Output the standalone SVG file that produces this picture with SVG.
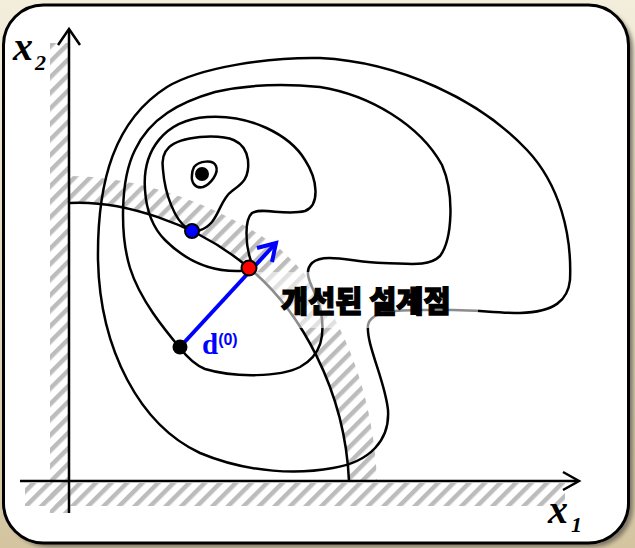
<svg xmlns="http://www.w3.org/2000/svg" width="635" height="548" viewBox="0 0 635 548">
<defs>
<linearGradient id="bg" x1="0" y1="0" x2="0" y2="1">
<stop offset="0" stop-color="#f3eedc"/>
<stop offset="1" stop-color="#d4c5a0"/>
</linearGradient>
<filter id="blur" x="-5%" y="-5%" width="110%" height="110%"><feGaussianBlur stdDeviation="2"/></filter>
<pattern id="hatch" width="11" height="11" patternUnits="userSpaceOnUse" patternTransform="rotate(45)">
<rect x="0" y="0" width="4.5" height="11" fill="#bcbcbc"/>
</pattern>
<style>
.ct{fill:none;stroke:#000;stroke-width:2.5;stroke-linejoin:round}
.ax{fill:none;stroke:#000;stroke-width:2.5}
.lbl{font-family:"Liberation Serif",serif;font-style:italic;font-weight:bold;fill:#000}
</style>
</defs>
<rect width="635" height="548" fill="url(#bg)"/>
<rect x="8" y="9" width="625" height="538" rx="40" fill="#7d7566" filter="url(#blur)"/>
<rect x="3.5" y="5" width="625" height="538" rx="40" fill="#fff" stroke="#000" stroke-width="3"/>

<g id="hatching">
<rect x="50" y="43" width="19" height="470" fill="url(#hatch)"/>
<rect x="25" y="483" width="540" height="23" fill="url(#hatch)"/>
<path d="M69,203 C120,200 195,222 249,268 C300,310 345,390 349,481 L377,481 C374,390 338,295 275,245 C205,196 125,176 69,176 Z" fill="url(#hatch)"/>
</g>

<g id="contours">
<path id="contour-a" class="ct" d="M98,260 C97,180 115,120 167,87 C200,67 270,57 320,58 C400,62 480,100 527,150 C560,185 572,235 570,280 C568,300 555,312 520,313 C495,313 470,309 447,310 C415,311 372,306 368,325 C366,345 385,380 388,410 C390,440 370,462 333,468 C300,474 250,474 200,453 C140,425 100,350 98,260 Z"/>
<path id="contour-b" class="ct" d="M320,87 C370,95 420,125 442,165 C455,195 452,240 440,256 C428,268 405,263 383,263 C355,263 325,252 312,263 C300,275 318,292 321,312 C325,335 322,355 300,367 C280,377 235,378 205,369 C195,365 187,357 180,348 C165,330 140,300 130,268 C120,235 120,180 135,150 C150,118 180,102 215,92 C250,84 290,84 320,87 Z"/>
<path id="contour-c" class="ct" d="M145,190 C142,150 165,120 207,117 C250,114 290,135 305,160 C318,180 320,205 305,211 C285,216 262,207 252,213 C244,220 246,245 250,258 C253,266 250,270 240,271 C210,272 185,260 165,240 C150,225 146,205 145,190 Z"/>
<path id="contour-d" class="ct" d="M163,170 C160,150 170,140 200,137 C230,135 245,140 248,160 C250,180 240,185 232,191 C222,198 220,212 212,222 C205,230 195,234 187,228 C175,220 165,195 163,170 Z"/>
<path id="contour-e" class="ct" d="M194,167 C199,161 213,159 216,166 C219,173 211,184 203,187 C195,189 191,182 192,175 C192,172 193,169 194,167 Z"/>
<circle id="optimum" cx="202" cy="174" r="7" fill="#000"/>
</g>

<g id="constraint">
<path class="ct" stroke-width="2.2" d="M69,203 C120,200 195,222 249,268 C300,310 345,390 349,481"/>
</g>

<g id="axes">
<line class="ax" x1="69" y1="30" x2="69" y2="513"/>
<polyline class="ax" points="58,45 69,29 80,45"/>
<line class="ax" x1="20" y1="481" x2="578" y2="481"/>
<polyline class="ax" points="563,472 579,481 563,490"/>
<text class="lbl" x="13" y="60" font-size="40">x</text>
<text class="lbl" x="35" y="70" font-size="22">2</text>
<text class="lbl" x="548" y="523" font-size="40">x</text>
<text class="lbl" x="571" y="532" font-size="22">1</text>
</g>

<rect x="252" y="272" width="226" height="56" fill="#fff" fill-opacity="0.55"/>
<g id="label">
<text x="281" y="312" font-family="'Noto Sans CJK KR',sans-serif" font-weight="900" font-size="29.5" fill="#000" stroke="#000" stroke-width="1.3">개선된 설계점</text>
</g>

<g id="direction">
<line x1="180" y1="347" x2="276" y2="243" stroke="#0000ff" stroke-width="4"/>
<polyline points="257,248 276,243 272,262" fill="none" stroke="#0000ff" stroke-width="4"/>
<text x="202" y="354" font-family="'Liberation Serif',serif" font-weight="bold" font-size="29" fill="#0000ff">d<tspan font-family="'Liberation Sans',sans-serif" font-size="16" dy="-9">(0)</tspan></text>
</g>

<g id="points">
<circle id="start" cx="180" cy="347" r="7.5" fill="#000"/>
<circle id="blue-pt" cx="192" cy="231" r="7" fill="#0000ff" stroke="#000" stroke-width="2"/>
<circle id="red-pt" cx="249" cy="268" r="7.5" fill="#ff0000" stroke="#000" stroke-width="2"/>
</g>
</svg>
